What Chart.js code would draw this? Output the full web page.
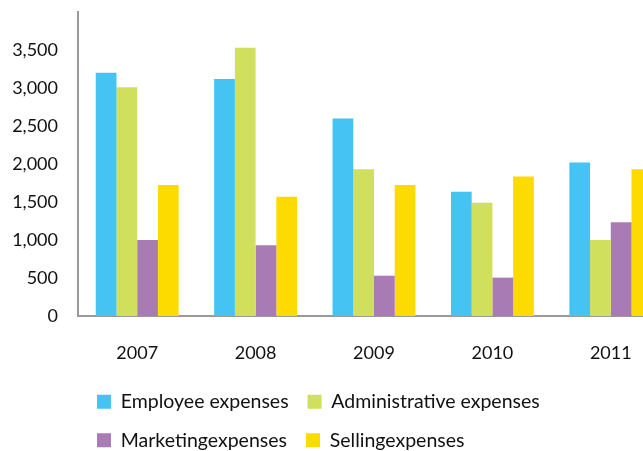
<!DOCTYPE html>
<html lang="en">
<head>
    <meta charset="UTF-8">
    <title>Expenses by year</title>
    <script src="https://cdn.jsdelivr.net/npm/chart.js"></script>
    <style>
        body {
            margin: 0;
            overflow: hidden;
            background: #ffffff;
        }
        #wrap {
            width: 643px;
            height: 451px;
            overflow: hidden;
        }
    </style>
</head>
<body>
    <div id="wrap">
        <canvas id="expenseChart" width="670" height="460"></canvas>
    </div>

    <script>
        // data
        const years = ['2007', '2008', '2009', '2010', '2011'];
        const employee = [3200, 3120, 2600, 1635, 2020];
        const administrative = [3010, 3530, 1930, 1490, 1000];
        const marketing = [1000, 930, 530, 505, 1235];
        const selling = [1725, 1570, 1725, 1835, 1930];
        const yTicks = [0, 500, 1000, 1500, 2000, 2500, 3000, 3500];

        const font = "Lato, 'Open Sans', sans-serif";

        const ctx = document.getElementById('expenseChart').getContext('2d');

        const expenseChart = new Chart(ctx, {
            type: 'bar',
            data: {
                labels: years,
                datasets: [
                    { label: 'Employee expenses', data: employee, backgroundColor: '#45c3f2' },
                    { label: 'Administrative expenses', data: administrative, backgroundColor: '#d0e05c' },
                    { label: 'Marketingexpenses', data: marketing, backgroundColor: '#a87bb5' },
                    { label: 'Sellingexpenses', data: selling, backgroundColor: '#fddb00' }
                ]
            },
            options: {
                responsive: false,
                animation: false,
                layout: { padding: { top: 12, left: 0, right: 0, bottom: 0 } },
                datasets: {
                    bar: { categoryPercentage: 0.7, barPercentage: 1.0 }
                },
                plugins: {
                    tooltip: { enabled: false },
                    legend: {
                        position: 'bottom',
                        align: 'start',
                        fullSize: false,
                        labels: {
                            boxWidth: 14,
                            boxHeight: 14,
                            padding: 19,
                            color: '#111111',
                            font: { family: font, size: 19.5 }
                        }
                    }
                },
                scales: {
                    x: {
                        grid: { display: false },
                        border: { display: true, color: '#9a9a9a', width: 2 },
                        ticks: {
                            padding: 18,
                            color: '#111111',
                            font: { family: font, size: 18 }
                        },
                        afterFit: (scale) => { scale.height = 57; }
                    },
                    y: {
                        min: 0,
                        max: 4000,
                        grid: { display: false },
                        border: { display: true, color: '#9a9a9a', width: 2 },
                        afterBuildTicks: (scale) => {
                            scale.ticks = yTicks.map(v => ({ value: v }));
                        },
                        ticks: {
                            padding: 12,
                            color: '#111111',
                            font: { family: font, size: 18 }
                        },
                        afterFit: (scale) => {
                            scale.width = 78;
                            scale.paddingTop = 0;
                            scale.paddingBottom = 0;
                        }
                    }
                }
            }
        });
    </script>
</body>
</html>
